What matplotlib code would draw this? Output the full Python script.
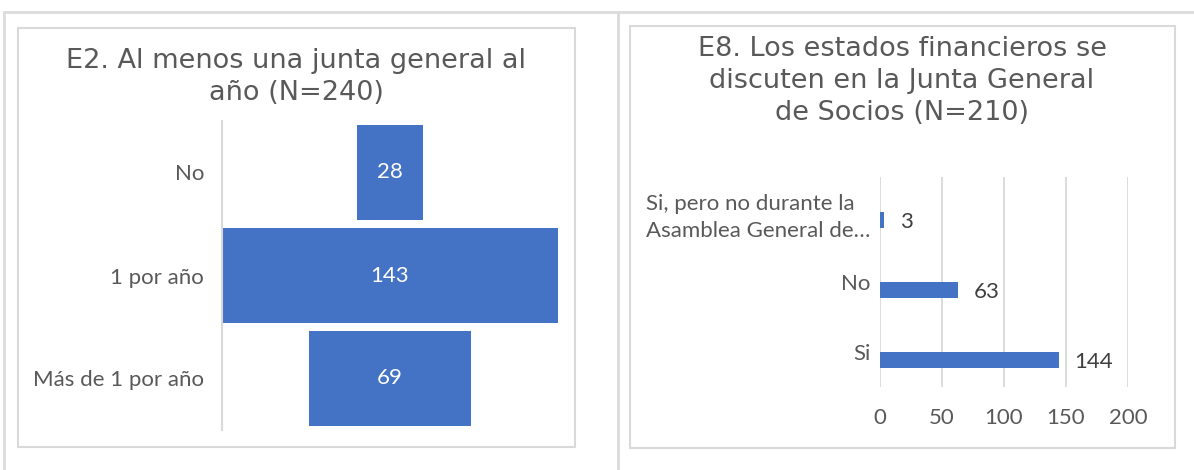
import matplotlib
matplotlib.use('Agg')
import matplotlib.pyplot as plt
from matplotlib.lines import Line2D
from matplotlib.patches import Rectangle

# datos E2
e2_cats = ['No', '1 por año', 'Más de 1 por año']
e2_vals = [28, 143, 69]

# datos E8
e8_cats = ['Si', 'No', 'Si, pero no durante la\nAsamblea General de…']
e8_vals = [144, 63, 3]
e8_ticks = [0, 50, 100, 150, 200]

W, H = 1194, 470
AZUL = '#4472C4'
GRIS_TXT = '#595959'
GRIS_LIN = '#d9d9d9'
FUENTE = ['Lato', 'DejaVu Sans']
TAM = 16


def fx(x):
    return x / W


def fy(y):
    return 1 - y / H


fig = plt.figure(figsize=(W / 100, H / 100), dpi=100)

# lineas de la tabla exterior
for xs, ys in [([4, W], [12, 12]), ([4, 4], [12, H]), ([618, 618], [12, H])]:
    fig.add_artist(Line2D([fx(v) for v in xs], [fy(v) for v in ys],
                          transform=fig.transFigure, color='#dcdcdc', lw=2))

# marcos de los graficos
for x0, y0, x1, y1 in [(18, 28, 575, 447), (630, 26, 1175, 448)]:
    fig.add_artist(Rectangle((fx(x0), fy(y1)), fx(x1 - x0), (y1 - y0) / H,
                             transform=fig.transFigure, fill=False,
                             edgecolor=GRIS_LIN, lw=1.5))

# ---- E2: embudo ----
ax_1 = fig.add_axes([fx(222), fy(430), fx(558 - 222), (430 - 121) / H])
pos = [2, 1, 0]
lefts = [-v / 2 for v in e2_vals]
bars = ax_1.barh(pos, e2_vals, left=lefts, height=0.93, color=AZUL)
for b, v in zip(bars, e2_vals):
    ax_1.text(b.get_x() + b.get_width() / 2, b.get_y() + b.get_height() / 2,
              str(v), ha='center', va='center', color='white',
              fontsize=TAM, family=FUENTE)
ax_1.set_xlim(-143 / 2, 143 / 2)
ax_1.set_ylim(-0.5, 2.5)
ax_1.set_yticks(pos)
ax_1.set_yticklabels(e2_cats, fontsize=TAM, color=GRIS_TXT, family=FUENTE)
ax_1.set_xticks([])
ax_1.tick_params(axis='y', length=0, pad=13)
for s in ['top', 'right', 'bottom']:
    ax_1.spines[s].set_visible(False)
ax_1.spines['left'].set_color(GRIS_LIN)
ax_1.spines['left'].set_linewidth(1.5)

fig.text(fx(296), fy(76.5), 'E2. Al menos una junta general al\naño (N=240)',
         ha='center', va='center', multialignment='center', fontsize=19.5,
         color=GRIS_TXT, family='DejaVu Sans', linespacing=1.3)

# ---- E8: barras horizontales ----
ax_2 = fig.add_axes([fx(880), fy(387), fx(1128 - 880), (387 - 177) / H])
ypos = list(range(len(e8_cats)))
bars2 = ax_2.barh([p - 0.115 for p in ypos], e8_vals, height=0.24, color=AZUL,
                  zorder=3)
for b, v in zip(bars2, e8_vals):
    ax_2.annotate(str(v), (b.get_width(), b.get_y() + b.get_height() / 2),
                  xytext=(11.5, -1.5), textcoords='offset points', ha='left',
                  va='center', fontsize=TAM, color='#404040', family=FUENTE)
ax_2.set_xlim(0, 200)
ax_2.set_ylim(-0.5, 2.5)
ax_2.set_xticks(e8_ticks)
ax_2.set_xticklabels([str(t) for t in e8_ticks], fontsize=TAM,
                     color=GRIS_TXT, family=FUENTE)
ax_2.set_yticks(ypos)
ax_2.set_yticklabels(e8_cats, fontsize=TAM, color=GRIS_TXT, family=FUENTE,
                     multialignment='left', linespacing=1.45)
ax_2.tick_params(axis='x', length=0, pad=15)
ax_2.tick_params(axis='y', length=0, pad=7)
ax_2.grid(axis='x', color=GRIS_LIN, lw=1.3, zorder=0)
ax_2.set_axisbelow(True)
for s in ax_2.spines.values():
    s.set_visible(False)

fig.text(fx(902), fy(81.5),
         'E8. Los estados financieros se\ndiscuten en la Junta General\nde Socios (N=210)',
         ha='center', va='center', multialignment='center', fontsize=19.5,
         color=GRIS_TXT, family='DejaVu Sans', linespacing=1.3)

fig.savefig('out.png', dpi=100)
